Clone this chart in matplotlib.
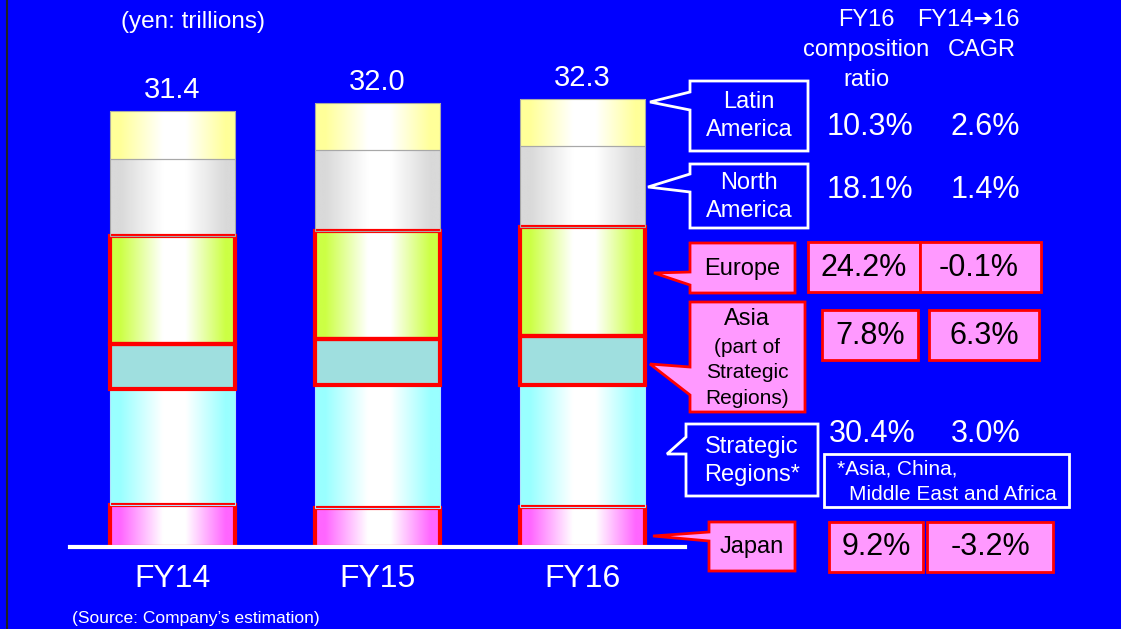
import matplotlib.pyplot as plt
import numpy as np
from matplotlib.colors import LinearSegmentedColormap
from matplotlib.patches import Polygon, Rectangle

years = ["FY14", "FY15", "FY16"]
totals = [31.4, 32.0, 32.3]
japan = [3.0, 2.8, 2.9]
strategic = [8.4, 8.9, 8.8]
asia = [3.2, 3.3, 3.5]
europe = [7.8, 7.8, 7.9]
north_america = [5.6, 5.8, 5.8]
latin_america = [3.4, 3.4, 3.4]

ratio_fy16 = [10.3, 18.1, 24.2, 7.8, 30.4, 9.2]
cagr = [2.6, 1.4, -0.1, 6.3, 3.0, -3.2]

BLUE = "#0000FF"
PINK = "#FF99FF"
plt.rcParams['font.family'] = ['Liberation Sans', 'DejaVu Sans']

fig = plt.figure(figsize=(11.21, 6.29), dpi=100, facecolor=BLUE)
W, H = 1121, 629

# bar axes: baseline at y=547px, ~13.87px per trillion
ax = fig.add_axes([70 / W, (H - 547) / H, 615 / W, (547 - 60) / H])
ax.set_facecolor("none")
ax.set_xlim(-0.5, 2.5)
ax.set_ylim(0, 487 / 13.87)

x = np.arange(len(years))
width = 0.61
segments = [
    (japan, "#FF66FF", True, "red", 3.0),
    (strategic, "#99FFFF", True, "#B0E0FF", 0.8),
    (asia, "#9FDFDF", False, "red", 3.0),
    (europe, "#CCFF44", True, "red", 3.0),
    (north_america, "#D9D9D9", True, "#A8A8A8", 0.8),
    (latin_america, "#FFFF99", True, "#A8A8A8", 0.8),
]
bottom = np.zeros(len(years))
for vals, col, grad, ec, lw in segments:
    bars = ax.bar(x, vals, width, bottom=bottom, color=col, edgecolor="none", zorder=2)
    if grad:
        cmap = LinearSegmentedColormap.from_list(
            "g", [(0, col), (0.08, col), (0.42, "white"), (0.6, "white"), (0.92, col), (1, col)])
        g = np.linspace(0, 1, 256).reshape(1, -1)
        for b in bars:
            bx, by = b.get_x(), b.get_y()
            im = ax.imshow(g, cmap=cmap, aspect="auto", zorder=3,
                           extent=[bx, bx + b.get_width(), by, by + b.get_height()])
            im.set_clip_path(b)
    ax.bar(x, vals, width, bottom=bottom, color="none", edgecolor=ec, linewidth=lw, zorder=4)
    bottom += np.array(vals)

ax.set_xlim(-0.5, 2.5)
ax.set_ylim(0, 487 / 13.87)
for i, t in enumerate(totals):
    ax.text(x[i], t + 0.95, f"{t:.1f}", ha="center", va="baseline", color="white", fontsize=21)

for s in ["top", "left", "right"]:
    ax.spines[s].set_visible(False)
ax.spines["bottom"].set_color("white")
ax.spines["bottom"].set_linewidth(3)
ax.spines["bottom"].set_zorder(5)
ax.set_yticks([])
ax.set_xticks(x, years)
ax.tick_params(axis="x", length=0, colors="white", labelsize=23, pad=12)

# overlay in pixel coordinates for callouts and table
lay = fig.add_axes([0, 0, 1, 1])
lay.set_facecolor("none")
lay.set_xlim(0, W)
lay.set_ylim(H, 0)
lay.axis("off")
lay.plot([7, 7], [0, H], color="#202020", lw=1.5)

def callout(pts, face, edge):
    lay.add_patch(Polygon(pts, closed=True, facecolor=face, edgecolor=edge, linewidth=2, zorder=3))

callout([(690, 81), (808, 81), (808, 151), (690, 151), (690, 110), (650, 102), (690, 92)], BLUE, "white")
callout([(690, 164), (808, 164), (808, 228), (690, 228), (690, 192), (648, 187), (690, 174)], BLUE, "white")
callout([(690, 243), (795, 243), (795, 293), (690, 293), (690, 285), (654, 273), (690, 272)], PINK, "red")
callout([(690, 302), (805, 302), (805, 412), (690, 412), (690, 395), (650, 364), (690, 367)], PINK, "red")
callout([(686, 424), (818, 424), (818, 496), (686, 496), (686, 454), (667, 454), (686, 437)], BLUE, "white")
callout([(709, 522), (795, 522), (795, 571), (709, 571), (709, 541), (653, 536), (709, 532)], PINK, "red")

lay.text(749, 116, "Latin\nAmerica", ha="center", va="center", color="white", fontsize=17, linespacing=1.4)
lay.text(749, 197, "North\nAmerica", ha="center", va="center", color="white", fontsize=17, linespacing=1.4)
lay.text(742, 269, "Europe", ha="center", va="center", color="black", fontsize=17)
lay.text(747, 319, "Asia", ha="center", va="center", color="black", fontsize=17)
lay.text(747, 373, "(part of\nStrategic\nRegions)", ha="center", va="center", color="black",
         fontsize=15, linespacing=1.45)
lay.text(752, 461, "Strategic\nRegions*", ha="center", va="center", color="white", fontsize=17, linespacing=1.4)
lay.text(752, 547, "Japan", ha="center", va="center", color="black", fontsize=17)

# table boxes
for (x0, x1, y0, y1) in [(808, 920, 242, 292), (920, 1041, 242, 292), (822, 918, 310, 360),
                         (929, 1039, 310, 360), (829, 923, 522, 572), (927, 1053, 522, 572)]:
    lay.add_patch(Rectangle((x0, y0), x1 - x0, y1 - y0, facecolor=PINK, edgecolor="red", linewidth=2, zorder=3))
lay.add_patch(Rectangle((824, 454), 245, 53, facecolor="none", edgecolor="white", linewidth=2, zorder=3))

row_y = [127, 190, 268, 336, 434, 547]
col1_x = [870, 870, 864, 870, 872, 876]
col2_x = [985, 985, 979, 984, 986, 990]
boxed = [False, False, True, True, False, True]
for i in range(len(row_y)):
    c = "black" if boxed[i] else "white"
    lay.text(col1_x[i], row_y[i], f"{ratio_fy16[i]:.1f}%", ha="center", va="center", color=c, fontsize=22, zorder=4)
    lay.text(col2_x[i], row_y[i], f"{cagr[i]:.1f}%", ha="center", va="center", color=c, fontsize=22, zorder=4)

lay.text(866, 20, "FY16", ha="center", va="center", color="white", fontsize=17)
lay.text(866, 50, "composition", ha="center", va="center", color="white", fontsize=17)
lay.text(866, 80, "ratio", ha="center", va="center", color="white", fontsize=17)
lay.text(968, 20, "FY14\u279416", ha="center", va="center", color="white", fontsize=17)
lay.text(982, 50, "CAGR", ha="center", va="center", color="white", fontsize=17)
lay.text(193, 22, "(yen: trillions)", ha="center", va="center", color="white", fontsize=17.5)
lay.text(837, 469, "*Asia, China,", ha="left", va="center", color="white", fontsize=15)
lay.text(849, 494, "Middle East and Africa", ha="left", va="center", color="white", fontsize=15)
lay.text(72, 619, "(Source: Company\u2019s estimation)", ha="left", va="center", color="white", fontsize=12.5)

fig.savefig("out.png", dpi=100, facecolor=BLUE)
